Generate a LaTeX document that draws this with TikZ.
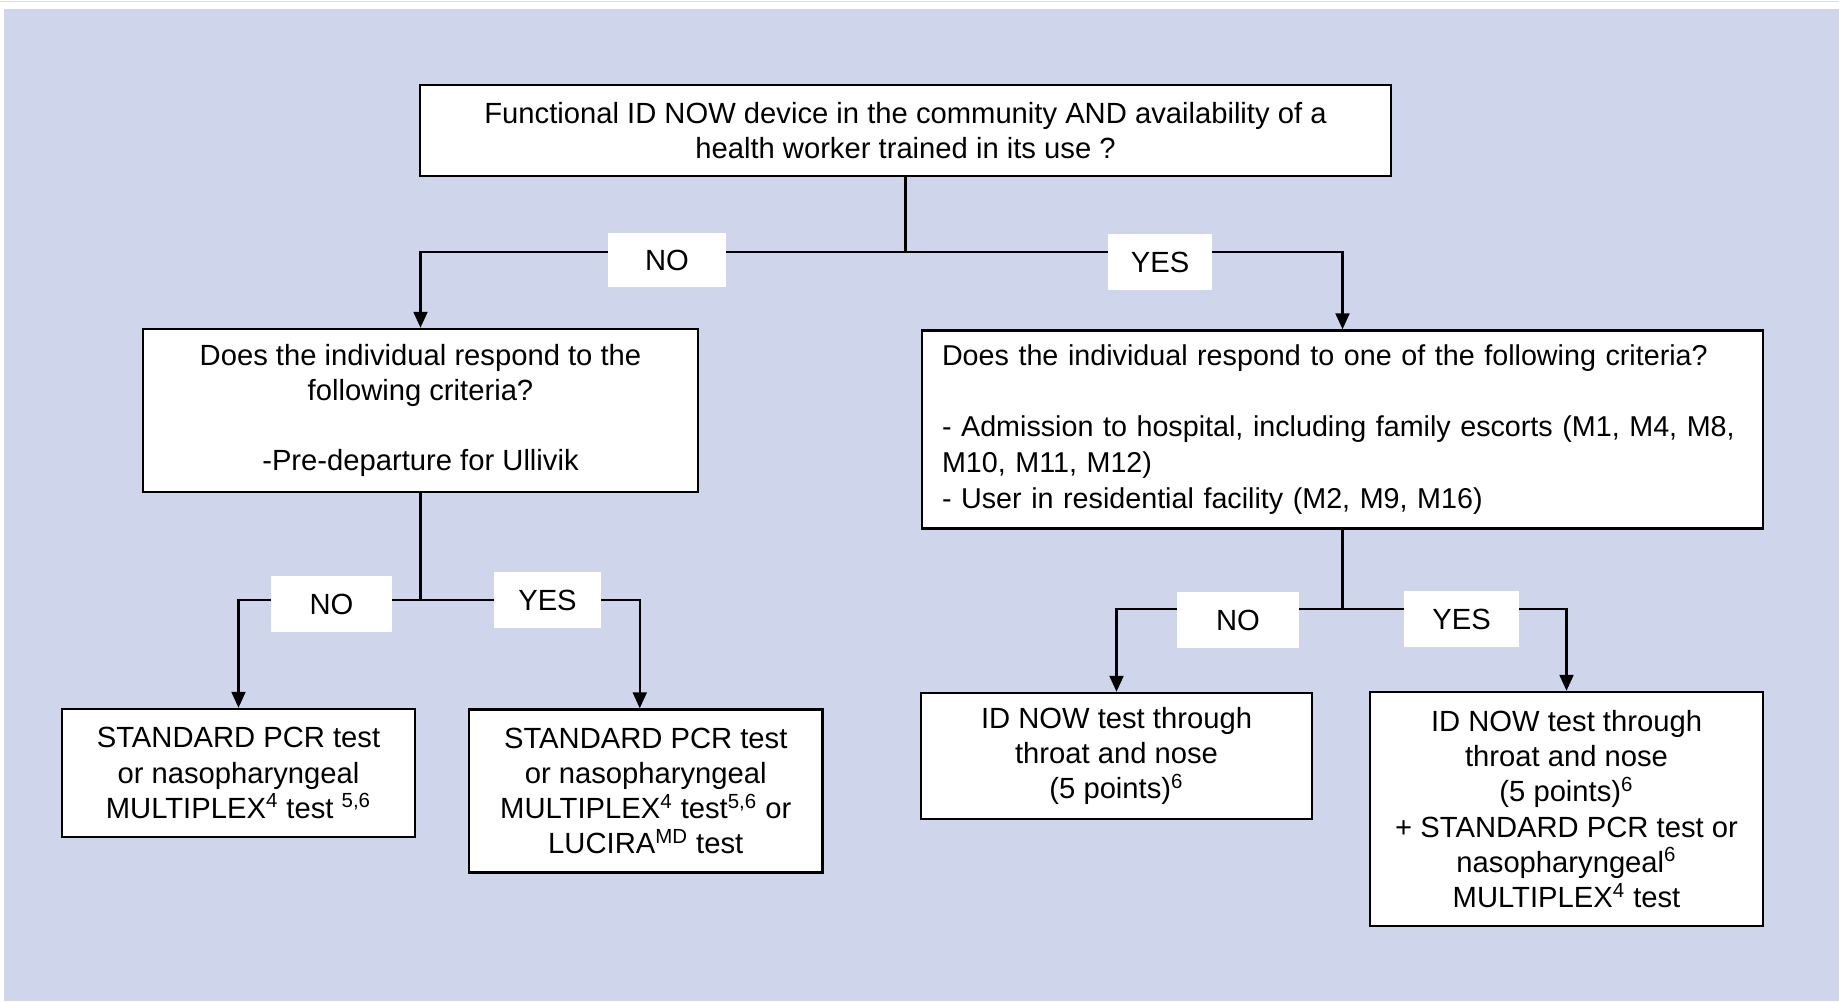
\documentclass[tikz,border=0pt]{standalone}
\usepackage{fontspec}
\setmainfont{Liberation Sans}
\usetikzlibrary{arrows.meta}
\definecolor{bgblue}{RGB}{207,213,234}
\begin{document}
\begin{tikzpicture}[x=0.5pt,y=-0.5pt,
  box/.style={draw=black,line width=1.25pt,fill=white,inner sep=0pt,
    font=\fontsize{14.6}{17.6}\selectfont,align=center},
  lbl/.style={fill=white,inner sep=0pt,font=\fontsize{14.6}{17.6}\selectfont},
  conn/.style={draw=black,line width=1.1pt},
  arr/.style={conn,-{Triangle[width=7pt,length=8pt]}}]
\useasboundingbox (0,0) rectangle (1839,1001);
\fill[white] (0,0) rectangle (1839,1001);
\fill[bgblue] (4,9) rectangle (1839,1001);
\draw[gray!25,line width=0.5pt] (0,1) -- (1839,1);
% boxes
\node[box,minimum width=485.5pt,minimum height=45.5pt] (top) at (905.5,130.5)
  {Functional ID NOW device in the community AND availability of a\\health worker trained in its use ?};
\node[box,minimum width=277.5pt,minimum height=81.5pt] (q2) at (420.5,410.5)
  {Does the individual respond to the\\following criteria?\\[17.6pt]-Pre-departure for Ullivik};
\node[box,minimum width=420.5pt,minimum height=99pt,text width=400.5pt,align=left,
  font=\fontsize{14.35}{17.8}\selectfont] (q3) at (1342.5,429.5)
  {\mbox{Does the individual respond to one of the following criteria?}\\[17.8pt]\mbox{- Admission to hospital, including family escorts (M1, M4, M8,}\\M10, M11, M12)\\\mbox{- User in residential facility (M2, M9, M16)}};
\node[box,minimum width=176.5pt,minimum height=64pt] (a) at (238.5,773)
  {STANDARD PCR test\\or nasopharyngeal\\MULTIPLEX\textsuperscript{4} test \textsuperscript{5,6}};
\node[box,minimum width=176.75pt,minimum height=81.5pt] (b) at (645.75,791)
  {STANDARD PCR test\\or nasopharyngeal\\MULTIPLEX\textsuperscript{4} test\textsuperscript{5,6} or\\LUCIRA\textsuperscript{MD} test};
\node[box,minimum width=195.5pt,minimum height=63pt] (c) at (1116.5,756)
  {ID NOW test through\\throat and nose\\(5 points)\textsuperscript{6}};
\node[box,minimum width=196.5pt,minimum height=117pt] (d) at (1566.5,809)
  {ID NOW test through\\throat and nose\\(5 points)\textsuperscript{6}\\+ STANDARD PCR test or\\nasopharyngeal\textsuperscript{6}\\MULTIPLEX\textsuperscript{4} test};
% junctions
\coordinate (j1) at (905.5,252);
\coordinate (j2) at (420.5,600);
\coordinate (j3) at (1342.5,609);
% connectors
\draw[conn] (top.south) -- (j1);
\draw[arr] (j1) -| (q2.north);
\draw[arr] (j1) -| (q3.north);
\draw[conn] (q2.south) -- (j2);
\draw[arr] (j2) -| (a.north);
\draw[arr] (j2) -| ([xshift=-3pt]b.north);
\draw[conn] (q3.south) -- (j3);
\draw[arr] (j3) -| (c.north);
\draw[arr] (j3) -| (d.north);
% labels
\node[lbl,minimum width=59pt,minimum height=27pt] (l1) at (667,260) {NO};
\node[lbl,minimum width=52pt,minimum height=28pt] (l2) at (1160,262) {YES};
\node[lbl,minimum width=60.5pt,minimum height=28pt] (l3) at (331.5,604) {NO};
\node[lbl,minimum width=53.5pt,minimum height=28pt] (l4) at (547.5,600) {YES};
\node[lbl,minimum width=61pt,minimum height=28pt] (l5) at (1238,620) {NO};
\node[lbl,minimum width=57.5pt,minimum height=28pt] (l6) at (1461.5,619) {YES};
\end{tikzpicture}
\end{document}
